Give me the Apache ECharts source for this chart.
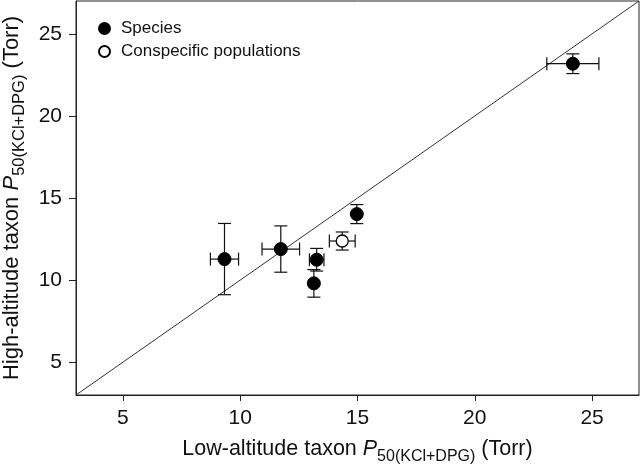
<!DOCTYPE html>
<html>
<head>
<meta charset="utf-8">
<script src="https://cdn.jsdelivr.net/npm/echarts@6/dist/echarts.min.js"></script>
<style>
html,body{margin:0;padding:0;background:#fff;}
#chart{width:641px;height:465px;}
</style>
</head>
<body>
<div id="chart"></div>
<script>
// Data
var speciesX    = [9.33, 11.73, 13.26, 13.14, 14.97, 24.18];
var speciesY    = [11.28, 11.89, 11.24, 9.80, 14.02, 23.18];
var speciesXErr = [0.60, 0.80, 0.31, 0.00, 0.00, 1.11];
var speciesYErr = [2.17, 1.41, 0.69, 0.84, 0.58, 0.60];

var popX    = [14.35];
var popY    = [12.38];
var popXErr = [0.55];
var popYErr = [0.55];

var identityLine = [3, 27];
var xTicks = [5, 10, 15, 20, 25];
var yTicks = [5, 10, 15, 20, 25];

var FONT = 'Liberation Sans, Arial, sans-serif';

function pts(xs, ys) { return xs.map(function (v, i) { return [v, ys[i]]; }); }
function errRows(xs, ys, xe, ye) { return xs.map(function (v, i) { return [v, ys[i], xe[i], ye[i]]; }); }

var errData = errRows(speciesX, speciesY, speciesXErr, speciesYErr)
  .concat(errRows(popX, popY, popXErr, popYErr));

function renderErr(params, api) {
  var x = api.value(0), y = api.value(1), xe = api.value(2), ye = api.value(3);
  var cap = 6.5;
  var st = { stroke: '#111', lineWidth: 1.2 };
  var ch = [];
  if (ye > 0) {
    var t = api.coord([x, y + ye]), b = api.coord([x, y - ye]);
    ch.push({ type: 'line', shape: { x1: t[0], y1: t[1], x2: b[0], y2: b[1] }, style: st });
    ch.push({ type: 'line', shape: { x1: t[0] - cap, y1: t[1], x2: t[0] + cap, y2: t[1] }, style: st });
    ch.push({ type: 'line', shape: { x1: b[0] - cap, y1: b[1], x2: b[0] + cap, y2: b[1] }, style: st });
  }
  if (xe > 0) {
    var l = api.coord([x - xe, y]), r = api.coord([x + xe, y]);
    ch.push({ type: 'line', shape: { x1: l[0], y1: l[1], x2: r[0], y2: r[1] }, style: st });
    ch.push({ type: 'line', shape: { x1: l[0], y1: l[1] - cap, x2: l[0], y2: l[1] + cap }, style: st });
    ch.push({ type: 'line', shape: { x1: r[0], y1: r[1] - cap, x2: r[0], y2: r[1] + cap }, style: st });
  }
  return { type: 'group', children: ch };
}

function richTitle(big, small) {
  return {
    n: { fontFamily: FONT, fontSize: big, color: '#111', lineHeight: 26, verticalAlign: 'bottom' },
    i: { fontFamily: FONT, fontSize: big, color: '#111', fontStyle: 'italic', lineHeight: 26, verticalAlign: 'bottom' },
    s: { fontFamily: FONT, fontSize: small, color: '#111', lineHeight: 16, verticalAlign: 'bottom', padding: [0, 0, -5, 0] }
  };
}

var chart = echarts.init(document.getElementById('chart'), null, { renderer: 'canvas' });
chart.setOption({
  animation: false,
  backgroundColor: '#fff',
  grid: { left: 76, right: 2, top: 1, bottom: 70, show: true, borderColor: '#222', borderWidth: 1,
    backgroundColor: 'transparent', outerBoundsMode: 'none', containLabel: false },
  legend: {
    orient: 'vertical', left: 93, top: 15, itemWidth: 11, itemHeight: 11, itemGap: 6,
    textStyle: { fontFamily: FONT, fontSize: 17, color: '#111', padding: [0, 0, 0, 6] },
    data: [{ name: 'Species', icon: 'circle' }, { name: 'Conspecific populations', icon: 'circle' }]
  },
  xAxis: {
    type: 'value', min: identityLine[0], max: identityLine[1], interval: 5,
    axisLine: { show: true, lineStyle: { color: '#222', width: 1 } },
    axisTick: { show: true, inside: false, length: 6, lineStyle: { color: '#222' },
      customValues: xTicks },
    axisLabel: { fontFamily: FONT, fontSize: 21, color: '#111', margin: 13, customValues: xTicks },
    splitLine: { show: false },
    name: '{n|Low-altitude taxon }{i|P}{s|50(KCl+DPG)}{n| (Torr)}',
    nameLocation: 'middle', nameGap: 39,
    nameTextStyle: { rich: richTitle(21.5, 16) }
  },
  yAxis: {
    type: 'value', min: identityLine[0], max: identityLine[1], interval: 5,
    axisLine: { show: true, lineStyle: { color: '#222', width: 1 } },
    axisTick: { show: true, inside: false, length: 7, lineStyle: { color: '#222' },
      customValues: yTicks },
    axisLabel: { fontFamily: FONT, fontSize: 21, color: '#111', margin: 14, customValues: yTicks },
    splitLine: { show: false },
    name: '{n|High-altitude taxon }{i|P}{s|50(KCl+DPG)}{n| (Torr)}',
    nameLocation: 'middle', nameGap: 51, nameRotate: 90,
    nameTextStyle: { rich: richTitle(22, 16.5) }
  },
  series: [
    {
      type: 'line', data: [[identityLine[0], identityLine[0]], [identityLine[1], identityLine[1]]],
      symbol: 'none', silent: true, lineStyle: { color: '#333', width: 1 }, z: 1
    },
    {
      type: 'custom', renderItem: renderErr, data: errData, encode: { x: 0, y: 1 }, z: 2, silent: true
    },
    {
      name: 'Species', type: 'scatter', data: pts(speciesX, speciesY), symbol: 'circle', symbolSize: 13,
      itemStyle: { color: '#000', borderColor: '#000', borderWidth: 1, opacity: 1 }, z: 3
    },
    {
      name: 'Conspecific populations', type: 'scatter', data: pts(popX, popY), symbol: 'circle', symbolSize: 12,
      itemStyle: { color: '#fff', borderColor: '#000', borderWidth: 1.3, opacity: 1 }, z: 3
    }
  ]
});
</script>
</body>
</html>
